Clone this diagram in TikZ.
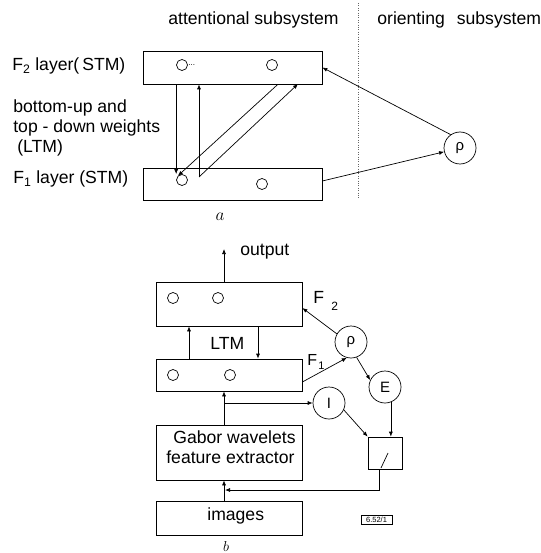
\documentclass[tikz,border=0pt]{standalone}
\usepackage{fontspec}
\setmainfont{Liberation Sans}
\usetikzlibrary{arrows.meta}
\begin{document}
\begin{tikzpicture}[x=1pt,y=-1pt,line width=0.7pt]
\tikzset{
  lbl/.style={font=\fontsize{17.6}{20}\selectfont, inner sep=0pt},
  unit/.style={draw, circle, minimum size=11pt, inner sep=0pt},
  gate/.style={draw, circle, minimum size=32pt, inner sep=0pt, font=\fontsize{15}{18}\selectfont},
  rect/.style={draw, inner sep=0pt},
  arr/.style={-{Latex[length=5pt,width=4pt]}},
  sep/.style={line width=0.5pt, dash pattern=on 0.8pt off 1.6pt, black!60},
}
\path[fill=white] (0,0) rectangle (540,553);
\useasboundingbox (0,0) rectangle (540,553);

% ---------- part a ----------
\node[lbl, anchor=base west] (att) at (168,25) {attentional subsystem};
\node[lbl, anchor=base west] (ori) at (377,25) {orienting\hspace{12pt}subsystem};
\draw[sep] (358,3) -- (358,198);

\node[rect, minimum width=179pt, minimum height=33pt] (F2a) at (232.5,67.5) {};
\node[rect, minimum width=179pt, minimum height=32pt] (F1a) at (232.5,184) {};
\node[unit] (u2a1) at (182,65) {};
\node[unit] (u2a2) at (272,65) {};
\node[unit] (u1a1) at (182,180) {};
\node[unit] (u1a2) at (262,184) {};
\node[inner sep=0pt, anchor=west, font=\fontsize{8}{9}\selectfont] (dots) at (188,65) {...};

\node[lbl, anchor=base west] (lF2) at (12,71) {F\textsubscript{2} layer(\,STM)};
\node[lbl, anchor=base west] (lw1) at (13,113) {bottom-up and};
\node[lbl, anchor=base west] (lw2) at (13,133) {top - down weights};
\node[lbl, anchor=base west] (lw3) at (17,153) {(LTM)};
\node[lbl, anchor=base west] (lF1) at (13,184) {F\textsubscript{1} layer (STM)};
\node[gate] (rhoA) at (460,148) {ρ};
\node[lbl] (capA) at (220,217) {$a$};

\coordinate (v) at (199,177);
\coordinate (d4) at (298,84);
\draw[arr] (F2a.south -| u2a1.west) -- (u2a1.west |- u1a1.north);
\draw[arr] (F2a.south -| u2a2.east) -- (u1a1.north west);
\draw[arr] (v) -- (F2a.south -| v);
\draw[arr] (v) -- (d4);
\draw[arr] (rhoA.125) -- (F2a.east);
\draw[arr] ([yshift=3pt]F1a.east) -- (rhoA);

% ---------- part b ----------
\node[rect, minimum width=146pt, minimum height=44pt] (F2b) at (229,304) {};
\node[rect, minimum width=146pt, minimum height=32pt] (F1b) at (229,375) {};
\node[rect, minimum width=146pt, minimum height=55pt] (Gab) at (229,452.5) {};
\node[rect, minimum width=146pt, minimum height=34pt] (img) at (229,518) {};
\node[lbl, anchor=base west] (tG1) at (173,443) {Gabor wavelets};
\node[lbl, anchor=base west] (tG2) at (166,463) {feature extractor};
\node[lbl, anchor=base west] (tim) at (207,520) {images};
\node[unit] (u2b1) at (173,298) {};
\node[unit] (u2b2) at (218,298) {};
\node[unit] (u1b1) at (173,375) {};
\node[unit] (u1b2) at (230,375) {};
\node[lbl, anchor=base west] (tltm) at (210,349) {LTM};
\node[lbl, anchor=base west] (tout) at (240,255) {output};
\node[lbl, anchor=base west] (tF2) at (313,303) {F};
\node[inner sep=0pt, anchor=base west, font=\fontsize{12}{14}\selectfont] (tF2s) at (331,310) {2};
\node[inner sep=0pt, anchor=base west, font=\fontsize{16}{18}\selectfont] (tF1) at (307,365) {F};
\node[inner sep=0pt, anchor=base west, font=\fontsize{11}{13}\selectfont] (tF1s) at (318,369) {1};

\node[gate] (rhoB) at (351,342) {ρ};
\node[gate] (E) at (385,387) {E};
\node[gate] (I) at (329,403) {I};
\node[draw, minimum width=34pt, minimum height=32pt, inner sep=0pt] (S) at (385,453) {};
\draw (381,468) -- (388,453);
\node[draw, inner sep=0pt, minimum width=31pt, minimum height=9pt, font=\fontsize{7.5}{8}\selectfont] (code) at (376.5,519.5) {6.52/1};
\node[inner sep=0pt, anchor=base, font=\fontsize{14}{16}\selectfont] (capB) at (226,551) {$b$};

\coordinate (out) at (224,249);
\coordinate (ib) at (224,403);
\coordinate (fb) at (225,490);
\draw[arr] ([xshift=-5pt]F2b.north) -- (out);
\draw[arr] ([xshift=-40pt]F1b.north) -- ([xshift=-40pt]F2b.south);
\draw[arr] ([xshift=29pt]F2b.south) -- ([xshift=29pt]F1b.north);
\draw[arr] (rhoB.150) -- ([yshift=-4pt]F2b.east);
\draw[arr] ([yshift=-7pt]F1b.east) -- (rhoB.255);
\draw[arr] (rhoB.-70) -- (E.155);
\draw[arr] ([xshift=-5pt]Gab.north) -- ([xshift=-5pt]F1b.south);
\draw[arr] (ib) -- (I.west);
\draw[arr] (I.-25) -- (S.north west);
\draw[arr] (E.-69) -- (E.-69 |- S.north);
\draw[arr] ([xshift=-6pt]S.south) |- (fb);
\draw[arr] ([xshift=-5pt]img.north) -- ([xshift=-5pt]Gab.south);
\end{tikzpicture}
\end{document}
